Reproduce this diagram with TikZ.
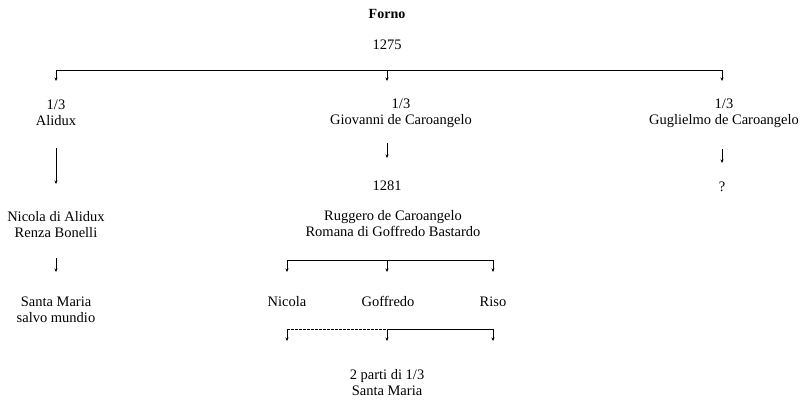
\documentclass[tikz,border=0pt]{standalone}
\usepackage{fontspec}
\setmainfont{Liberation Serif}
\usetikzlibrary{arrows.meta}
\begin{document}
\begin{tikzpicture}[x=1pt,y=-1pt,
  lbl/.style={inner sep=0pt,align=center,font=\fontsize{14.5}{16}\selectfont},
  arr/.style={-{Stealth[length=3.5pt,width=3pt]},line width=0.6pt},
  ln/.style={line width=0.6pt}]
\useasboundingbox (0,0) rectangle (802,399);
% texts
\node[lbl,font=\fontsize{14}{16}\selectfont\bfseries] (forno) at (387,14) {Forno};
\node[lbl] (y1275) at (387,45) {1275};
\node[lbl] (alidux) at (56,113) {1/3\\Alidux};
\node[lbl] (giov) at (401,113) {1/3\\Giovanni de Caroangelo};
\node[lbl] (gugl) at (724,113) {1/3\\Guglielmo de Caroangelo};
\node[lbl] (y1281) at (387,186) {1281};
\node[lbl] (q) at (722,187) {?};
\node[lbl] (nicalid) at (56,225) {Nicola di Alidux\\Renza Bonelli};
\node[lbl] (rugg) at (393,224) {Ruggero de Caroangelo\\Romana di Goffredo Bastardo};
\node[lbl] (smsalvo) at (56,310) {Santa Maria\\salvo mundio};
\node[lbl,anchor=base] (nicola) at (287,306) {Nicola};
\node[lbl,anchor=base] (goff) at (388,306) {Goffredo};
\node[lbl,anchor=base] (riso) at (493,306) {Riso};
\node[lbl] (parti) at (387,383) {2 parti di 1/3\\Santa Maria};
% coordinates
\coordinate (t1) at (56,70); \coordinate (t2) at (387,70); \coordinate (t3) at (722,70);
\coordinate (e1) at (56,81); \coordinate (e2) at (387,81); \coordinate (e3) at (722,81);
\coordinate (a1s) at (56,148); \coordinate (a1e) at (56,184);
\coordinate (a2s) at (387,143); \coordinate (a2e) at (387,158);
\coordinate (a3s) at (722,149); \coordinate (a3e) at (722,163);
\coordinate (a4s) at (56,258); \coordinate (a4e) at (56,272);
\coordinate (m1) at (287,260); \coordinate (m2) at (387,260); \coordinate (m3) at (493,260);
\coordinate (n1) at (287,272); \coordinate (n2) at (387,272); \coordinate (n3) at (493,272);
\coordinate (l1) at (287,329); \coordinate (l2) at (387,329); \coordinate (l3) at (493,329);
\coordinate (k1) at (287,341); \coordinate (k2) at (387,341); \coordinate (k3) at (493,341);
% connectors
\draw[ln] (t1) -- (t3);
\draw[arr] (t1) -- (e1);
\draw[arr] (t2) -- (e2);
\draw[arr] (t3) -- (e3);
\draw[arr] (a1s) -- (a1e);
\draw[arr] (a2s) -- (a2e);
\draw[arr] (a3s) -- (a3e);
\draw[arr] (a4s) -- (a4e);
\draw[ln] (m1) -- (m3);
\draw[arr] (m1) -- (n1);
\draw[arr] (m2) -- (n2);
\draw[arr] (m3) -- (n3);
\draw[ln,dash pattern=on 2.5pt off 1.5pt] (l1) -- (l2);
\draw[ln] (l2) -- (l3);
\draw[arr] (l1) -- (k1);
\draw[arr] (l2) -- (k2);
\draw[arr] (l3) -- (k3);
\end{tikzpicture}
\end{document}
